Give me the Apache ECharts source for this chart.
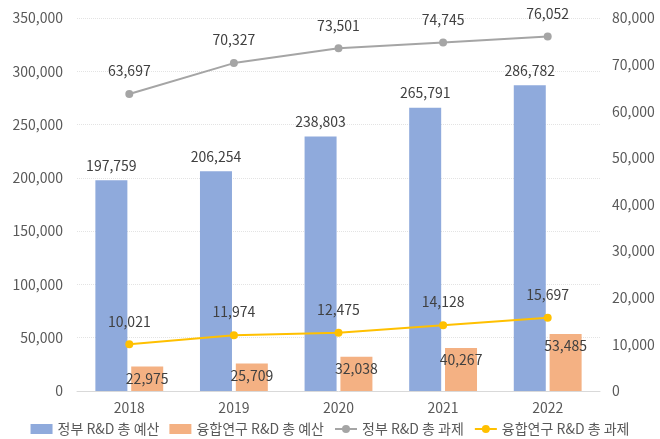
<!DOCTYPE html>
<html lang="ko">
<head>
<meta charset="UTF-8">
<title>R&D</title>
<script src="https://cdn.jsdelivr.net/npm/echarts@6/dist/echarts.min.js"></script>
<style>
  html, body { margin: 0; padding: 0; background: #fff; }
  #chart { width: 660px; height: 439px; }
</style>
</head>
<body>
<div id="chart"></div>
<script>
var years = ['2018', '2019', '2020', '2021', '2022'];
var govBudget = [197759, 206254, 238803, 265791, 286782];
var convBudget = [22975, 25709, 32038, 40267, 53485];
var govTasks = [63697, 70327, 73501, 74745, 76052];
var convTasks = [10021, 11974, 12475, 14128, 15697];

var FONT = "'Noto Sans CJK KR', 'Noto Sans', sans-serif";
var fmt = function (v) { return Number(v).toLocaleString('en-US'); };
var lbl = function (pos, dist) {
    return {
        show: true, position: pos, distance: dist,
        color: '#404040', fontSize: 14, fontFamily: FONT,
        formatter: function (p) { return fmt(p.value); }
    };
};

var chart = echarts.init(document.getElementById('chart'));
chart.setOption({
    animation: false,
    textStyle: { fontFamily: FONT },
    grid: { left: 77, right: 60, top: 18, bottom: 48 },
    legend: {
        bottom: -2, left: 'center',
        itemGap: 10, itemWidth: 22, itemHeight: 10,
        textStyle: { fontSize: 14, color: '#595959', fontFamily: FONT },
        data: [
            { name: '정부 R&D 총 예산', icon: 'rect' },
            { name: '융합연구 R&D 총 예산', icon: 'rect' },
            '정부 R&D 총 과제',
            '융합연구 R&D 총 과제'
        ]
    },
    xAxis: {
        type: 'category',
        data: years,
        axisLine: { lineStyle: { color: '#d9d9d9' } },
        axisTick: { show: false },
        axisLabel: { color: '#595959', fontSize: 14, margin: 10 }
    },
    yAxis: [
        {
            type: 'value', min: 0, max: 350000, interval: 50000,
            axisLabel: { color: '#595959', fontSize: 14, formatter: fmt, margin: 14 },
            splitLine: { lineStyle: { color: '#e3e3e3', type: 'dotted' } },
            axisLine: { show: false }, axisTick: { show: false }
        },
        {
            type: 'value', min: 0, max: 80000, interval: 10000,
            axisLabel: { color: '#595959', fontSize: 14, formatter: fmt, margin: 12 },
            splitLine: { show: false },
            axisLine: { show: false }, axisTick: { show: false }
        }
    ],
    series: [
        {
            name: '정부 R&D 총 예산', type: 'bar', data: govBudget,
            barWidth: 32, barGap: '12%',
            itemStyle: { color: '#8faadc' },
            label: lbl('top', 8)
        },
        {
            name: '융합연구 R&D 총 예산', type: 'bar', data: convBudget,
            barWidth: 32,
            itemStyle: { color: '#f4b183' },
            label: lbl('insideTop', 5)
        },
        {
            name: '정부 R&D 총 과제', type: 'line', yAxisIndex: 1, data: govTasks,
            symbol: 'circle', symbolSize: 8,
            lineStyle: { color: '#a5a5a5', width: 2 },
            itemStyle: { color: '#a5a5a5' },
            label: lbl('top', 12)
        },
        {
            name: '융합연구 R&D 총 과제', type: 'line', yAxisIndex: 1, data: convTasks,
            symbol: 'circle', symbolSize: 8,
            lineStyle: { color: '#ffc000', width: 2 },
            itemStyle: { color: '#ffc000' },
            label: lbl('top', 12)
        }
    ]
});
</script>
</body>
</html>
